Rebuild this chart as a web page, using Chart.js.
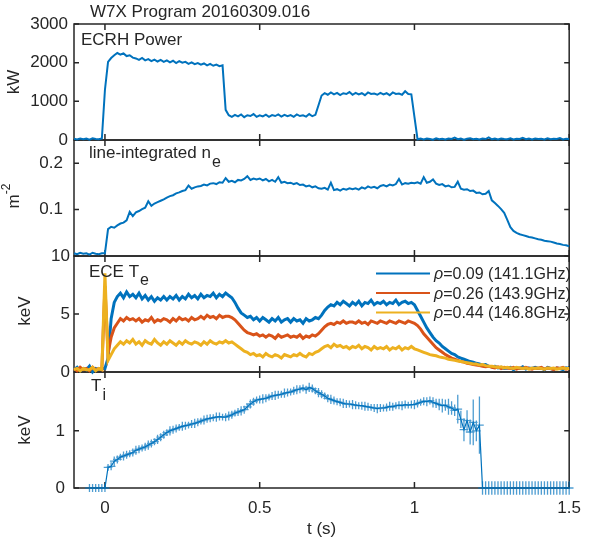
<!DOCTYPE html>
<html>
<head>
<meta charset="utf-8">
<script src="https://cdn.jsdelivr.net/npm/chart.js@4.4.1/dist/chart.umd.min.js"></script>
<style>
  body { margin: 0; background: #fff; }
  canvas { display: block; }
</style>
</head>
<body>
<canvas id="w7x" width="591" height="542"></canvas>
<script>
// sampling grid: t = -0.10 ... 1.50 s, 10 ms steps
const t0 = -0.1
const dt = 0.01

// ECRH power (kW)
const ecrhPower = [
  30, 15, 40, 20, 35, 10, 45, 25, 20, 40,
  1300, 2020, 2120, 2190, 2250, 2210, 2240, 2170, 2190, 2130,
  2110, 2070, 2120, 2060, 2090, 2040, 2080, 2030, 2070, 2020,
  2060, 2010, 2050, 1990, 2040, 2000, 2020, 1970, 2010, 1960,
  1990, 1950, 1980, 1930, 1970, 1920, 1950, 1910, 1930, 780,
  640, 600, 650, 610, 660, 590, 640, 620, 670, 600,
  640, 610, 655, 600, 645, 620, 660, 605, 650, 615,
  645, 600, 660, 620, 640, 605, 670, 615, 650, 900,
  1150, 1210, 1170, 1230, 1180, 1220, 1160, 1210, 1190, 1240,
  1170, 1220, 1180, 1210, 1160, 1230, 1190, 1200, 1170, 1220,
  1180, 1210, 1160, 1230, 1190, 1200, 1170, 1260, 1190, 1180,
  600, 20, 35, 15, 40, 25, 10, 45, 20, 30,
  15, 40, 25, 60, 20, 35, 10, 30, 45, 20,
  30, 15, 40, 25, 70, 20, 35, 15, 40, 25,
  20, 45, 15, 30, 25, 55, 20, 35, 15, 40,
  25, 30, 15, 45, 20, 35, 25, 50, 15, 30,
  25
]

// line-integrated density (axis units)
const density = [
  .006, .004, .007, .005, .006, .003, .007, .005, .004, .006,
  .006, .058, .063, .061, .066, .070, .072, .077, .095, .086,
  .094, .097, .101, .104, .118, .108, .113, .116, .119, .122,
  .126, .129, .131, .135, .137, .140, .142, .152, .145, .148,
  .150, .151, .154, .152, .156, .157, .155, .159, .158, .168,
  .160, .162, .159, .164, .163, .166, .172, .164, .167, .165,
  .167, .163, .166, .161, .164, .160, .170, .158, .160, .157,
  .158, .155, .157, .153, .154, .150, .152, .148, .150, .146,
  .145, .147, .143, .158, .142, .144, .141, .145, .143, .146,
  .144, .146, .143, .148, .145, .150, .147, .149, .146, .151,
  .153, .150, .154, .152, .155, .166, .154, .157, .156, .158,
  .157, .159, .156, .170, .158, .160, .165, .156, .153, .155,
  .150, .152, .148, .149, .160, .145, .143, .144, .140, .141,
  .136, .137, .133, .134, .140, .120, .114, .108, .101, .093,
  .078, .062, .054, .050, .047, .045, .043, .041, .040, .038,
  .036, .035, .033, .032, .031, .029, .027, .026, .024, .023,
  .021
]

// ECE electron temperature (keV)
const teCore = [
  .2, .4, .1, .3, .2, .5, .0, .3, .2, .3,
  .3, 1.2, 4.6, 6.0, 6.5, 6.8, 6.4, 6.9, 6.5, 6.7,
  6.4, 6.8, 6.3, 6.6, 6.2, 6.5, 6.1, 6.4, 6.2, 6.5,
  6.2, 6.5, 6.3, 6.6, 6.2, 6.5, 6.3, 6.7, 6.4, 6.6,
  6.3, 6.7, 6.4, 6.6, 6.5, 6.8, 6.4, 6.7, 6.5, 6.8,
  6.6, 6.4, 6.0, 5.5, 5.1, 4.9, 4.7, 4.8, 4.5, 4.7,
  4.4, 4.7, 4.5, 4.3, 4.6, 4.4, 4.7, 4.3, 4.5, 4.6,
  4.3, 4.6, 4.4, 4.5, 4.2, 4.6, 4.4, 4.5, 4.7, 4.6,
  4.9, 5.3, 5.6, 5.8, 5.7, 6.0, 5.8, 6.1, 5.9, 5.7,
  6.0, 5.8, 6.1, 5.7, 6.0, 5.9, 6.2, 5.8, 6.0, 5.9,
  6.1, 5.8, 6.0, 5.9, 6.2, 5.8, 6.0, 6.1, 5.9, 6.0,
  5.8, 5.3, 4.8, 4.3, 3.8, 3.4, 3.0, 2.7, 2.5, 2.2,
  2.0, 1.8, 1.6, 1.5, 1.3, 1.2, 1.1, 1.0, .9, .85,
  .75, .7, .6, .65, .5, .45, .5, .35, .4, .3,
  .35, .4, .2, .35, .3, .45, .25, .35, .3, .4,
  .3, .35, .2, .4, .3, .25, .35, .3, .2, .35,
  .3
]
const teMid = [
  .3, .1, .4, .2, .3, .1, .4, .2, .3, .2,
  7.4, 1.6, 3.0, 3.8, 4.2, 4.6, 4.4, 4.7, 4.5, 4.6,
  4.4, 4.6, 4.3, 4.5, 4.4, 4.7, 4.3, 4.5, 4.4, 4.6,
  4.5, 4.3, 4.6, 4.4, 4.7, 4.5, 4.6, 4.4, 4.7, 4.5,
  4.6, 4.8, 4.6, 4.9, 4.7, 4.8, 4.6, 4.9, 4.7, 4.8,
  4.8, 4.7, 4.5, 4.2, 3.9, 3.6, 3.4, 3.3, 3.2, 3.3,
  3.1, 3.2, 3.0, 3.2, 3.1, 2.9, 3.2, 3.0, 3.1, 3.2,
  3.0, 3.1, 3.0, 3.2, 2.9, 3.1, 3.0, 3.2, 3.1, 3.3,
  3.6, 3.9, 4.1, 4.2, 4.1, 4.3, 4.2, 4.4, 4.2, 4.3,
  4.3, 4.2, 4.4, 4.2, 4.3, 4.1, 4.4, 4.3, 4.2, 4.4,
  4.3, 4.2, 4.4, 4.3, 4.2, 4.4, 4.3, 4.2, 4.4, 4.3,
  4.2, 4.0, 3.7, 3.3, 3.0, 2.7, 2.4, 2.1, 1.9, 1.7,
  1.5, 1.35, 1.2, 1.1, 1.0, .9, .85, .75, .7, .65,
  .6, .55, .5, .45, .5, .4, .35, .45, .3, .4,
  .35, .3, .4, .25, .35, .3, .4, .3, .25, .35,
  .3, .4, .25, .35, .3, .2, .35, .3, .4, .25,
  .3
]
const teEdge = [
  .2, .3, .1, .3, .2, .2, .4, .1, .3, .2,
  8.5, 1.0, 1.5, 2.0, 2.3, 2.6, 2.4, 2.7, 2.5, 2.8,
  2.4, 2.6, 2.3, 2.7, 2.5, 2.4, 2.8, 2.5, 2.3, 2.6,
  2.4, 2.7, 2.5, 2.3, 2.6, 2.4, 2.7, 2.5, 2.4, 2.6,
  2.5, 2.3, 2.6, 2.4, 2.7, 2.5, 2.4, 2.6, 2.5, 2.7,
  2.5, 2.6, 2.4, 2.2, 2.0, 1.8, 1.7, 1.5, 1.6, 1.4,
  1.5, 1.3, 1.6, 1.4, 1.3, 1.5, 1.4, 1.2, 1.5, 1.4,
  1.3, 1.5, 1.4, 1.6, 1.4, 1.3, 1.6, 1.5, 1.7, 1.8,
  2.0, 2.2, 2.3, 2.1, 2.4, 2.2, 2.3, 2.1, 2.2, 2.0,
  2.2, 2.1, 2.3, 2.0, 2.2, 2.1, 1.9, 2.2, 2.0, 2.1,
  2.0, 2.2, 1.9, 2.1, 2.0, 2.2, 1.9, 2.1, 2.0, 2.2,
  2.0, 1.9, 1.8, 1.7, 1.6, 1.5, 1.45, 1.4, 1.3, 1.25,
  1.2, 1.1, 1.05, 1.0, .95, .9, .85, .8, .75, .7,
  .7, .6, .65, .55, .5, .5, .45, .4, .45, .35,
  .4, .35, .3, .4, .35, .3, .35, .25, .35, .3,
  .35, .3, .25, .35, .3, .35, .25, .3, .35, .3,
  .3
]

// ion temperature (keV) and its error
const ionTemp = [
  null, null, null, null, null, 0, 0, 0, 0, 0,
  0, .36, .38, .47, .50, .54, .56, .58, .60, .62,
  .66, .68, .70, .72, .75, .78, .81, .85, .89, .93,
  .97, 1.00, 1.02, 1.04, 1.06, 1.08, 1.09, 1.10, 1.12, 1.13,
  1.15, 1.17, 1.19, 1.21, 1.22, 1.23, 1.24, 1.25, 1.24, 1.24,
  1.26, 1.28, 1.31, 1.33, 1.35, 1.37, 1.42, 1.47, 1.51, 1.54,
  1.55, 1.56, 1.57, 1.59, 1.61, 1.62, 1.63, 1.64, 1.66, 1.67,
  1.68, 1.70, 1.72, 1.73, 1.75, 1.72, 1.76, 1.74, 1.70, 1.67,
  1.64, 1.61, 1.57, 1.55, 1.53, 1.51, 1.50, 1.48, 1.47, 1.47,
  1.46, 1.45, 1.44, 1.44, 1.43, 1.42, 1.41, 1.40, 1.39, 1.40,
  1.40, 1.41, 1.43, 1.42, 1.44, 1.45, 1.44, 1.46, 1.45, 1.46,
  1.46, 1.48, 1.50, 1.52, 1.51, 1.53, 1.50, 1.48, 1.46, 1.44,
  1.45, 1.42, 1.40, 1.36, 1.38, 1.20, 1.02, 1.18, .98, 1.15,
  1.00, 1.10, 0, 0, 0, 0, 0, 0, 0, 0,
  0, 0, 0, 0, 0, 0, 0, 0, 0, 0,
  0, 0, 0, 0, 0, 0, 0, 0, 0, 0,
  0
]
const ionTempErr = [
  null, null, null, null, null, .07, .07, .07, .07, .07,
  .07, .06, .07, .08, .07, .06, .08, .07, .06, .07,
  .08, .07, .06, .07, .08, .07, .06, .08, .07, .07,
  .06, .08, .07, .07, .06, .08, .07, .06, .07, .08,
  .07, .06, .08, .07, .07, .06, .08, .07, .06, .07,
  .08, .07, .06, .07, .08, .07, .06, .08, .07, .06,
  .07, .08, .07, .06, .07, .08, .07, .06, .08, .07,
  .06, .07, .08, .07, .06, .07, .08, .07, .06, .08,
  .07, .06, .07, .08, .07, .06, .07, .08, .07, .06,
  .08, .07, .06, .07, .08, .07, .06, .07, .08, .07,
  .06, .07, .08, .07, .06, .07, .08, .07, .06, .07,
  .08, .07, .06, .07, .08, .07, .09, .08, .10, .12,
  .10, .14, .12, .10, .25, .15, .20, .18, .22, .40,
  .18, .50, .12, .12, .12, .12, .12, .12, .12, .12,
  .12, .12, .12, .12, .12, .12, .12, .12, .12, .12,
  .12, .12, .12, .12, .12, .12, .12, .12, .12, .12,
  .12
]
const ionTimeErr = 0.014

const xTicks = [0, 0.5, 1, 1.5]
const powerTicks = [0, 1000, 2000, 3000]
const densityTicks = [0.1, 0.2]
const teTicks = [0, 5, 10]
const tiTicks = [0, 1]

const eceRho = ['0.09', '0.26', '0.44']
const eceFreq = ['141.1GHz', '143.9GHz', '146.8GHz']

const BLUE = '#0072BD'
const RED = '#D95319'
const YELLOW = '#EDB120'
const INK = '#262626'
const FONT = '"Liberation Sans", Arial, sans-serif'

const toPoints = (vals) => vals.map((v, i) => ({ x: +(t0 + dt * i).toFixed(2), y: v }))

const yScale = (min, max, ticks, pad) => ({
  type: 'linear',
  position: 'left',
  stack: 'panels',
  stackWeight: 1,
  min: min,
  max: max,
  afterBuildTicks: (s) => { s.ticks = ticks.map((v) => ({ value: v })) },
  afterFit: (s) => { s.width = 74 },
  grid: { display: false, drawTicks: false },
  border: { display: false },
  ticks: { autoSkip: false, color: INK, font: { family: FONT, size: 17 }, padding: pad, callback: (v) => String(v) }
})

// panel frames and inward tick marks, drawn under the data
const frames = {
  id: 'frames',
  beforeDatasetsDraw(chart) {
    const { ctx, chartArea: a, scales } = chart
    ctx.save()
    ctx.strokeStyle = INK
    ctx.lineWidth = 1.5
    for (const id of ['yP', 'yN', 'yT', 'yI']) {
      const s = scales[id]
      ctx.strokeRect(a.left, s.top, a.right - a.left, s.bottom - s.top)
      ctx.beginPath()
      for (const tk of s.ticks) {
        const py = s.getPixelForValue(tk.value)
        ctx.moveTo(a.left, py); ctx.lineTo(a.left + 5, py)
        ctx.moveTo(a.right, py); ctx.lineTo(a.right - 5, py)
      }
      for (const v of xTicks) {
        const px = scales.x.getPixelForValue(v)
        ctx.moveTo(px, s.top); ctx.lineTo(px, s.top + 6)
        ctx.moveTo(px, s.bottom); ctx.lineTo(px, s.bottom - 6)
      }
      ctx.stroke()
    }
    ctx.restore()
  }
}

// Ti error bars (crosses)
const errorBars = {
  id: 'errorBars',
  afterDatasetsDraw(chart) {
    const { ctx, scales } = chart
    const x = scales.x, y = scales.yI
    ctx.save()
    ctx.strokeStyle = 'rgba(0,114,189,0.7)'
    ctx.lineWidth = 1.3
    ctx.beginPath()
    ionTemp.forEach((v, i) => {
      if (v === null) return
      const t = t0 + dt * i
      const px = x.getPixelForValue(t), py = y.getPixelForValue(v)
      ctx.moveTo(x.getPixelForValue(t - ionTimeErr), py)
      ctx.lineTo(x.getPixelForValue(t + ionTimeErr), py)
      ctx.moveTo(px, y.getPixelForValue(v - ionTempErr[i]))
      ctx.lineTo(px, y.getPixelForValue(v + ionTempErr[i]))
    })
    ctx.stroke()
    ctx.restore()
  }
}

const labelWithSub = (ctx, x, y, main, sub, drop) => {
  ctx.font = '17px ' + FONT
  ctx.fillText(main, x, y)
  const w = ctx.measureText(main).width
  ctx.font = '16px ' + FONT
  ctx.fillText(sub, x + w + 1, y + drop)
}

const rotated = (ctx, cx, cy, draw) => {
  ctx.save()
  ctx.translate(cx, cy)
  ctx.rotate(-Math.PI / 2)
  draw()
  ctx.restore()
}

// title, panel labels, y titles and the ECE legend
const annotations = {
  id: 'annotations',
  afterDraw(chart) {
    const { ctx } = chart
    ctx.save()
    ctx.fillStyle = INK
    ctx.textBaseline = 'alphabetic'
    ctx.textAlign = 'left'
    ctx.font = '17px ' + FONT
    ctx.fillText('W7X Program 20160309.016', 90, 17)
    ctx.fillText('ECRH Power', 81, 45)
    labelWithSub(ctx, 89, 158, 'line-integrated n', 'e', 9)
    labelWithSub(ctx, 89, 277, 'ECE T', 'e', 8)
    labelWithSub(ctx, 91, 391, 'T', 'i', 9)

    ctx.textBaseline = 'middle'
    ctx.textAlign = 'center'
    rotated(ctx, 14, 82, () => { ctx.font = '17px ' + FONT; ctx.fillText('kW', 0, 0) })
    rotated(ctx, 14, 196, () => {
      ctx.font = '17px ' + FONT
      const wm = ctx.measureText('m').width
      ctx.font = '12px ' + FONT
      const ws = ctx.measureText('-2').width
      const start = -(wm + ws) / 2
      ctx.textAlign = 'left'
      ctx.font = '17px ' + FONT
      ctx.fillText('m', start, 0)
      ctx.font = '12px ' + FONT
      ctx.fillText('-2', start + wm, -7)
    })
    rotated(ctx, 25, 311, () => { ctx.font = '17px ' + FONT; ctx.fillText('keV', 0, 0) })
    rotated(ctx, 25, 430, () => { ctx.font = '17px ' + FONT; ctx.fillText('keV', 0, 0) })

    // legend
    const colors = [BLUE, RED, YELLOW]
    ctx.textAlign = 'left'
    ctx.textBaseline = 'alphabetic'
    eceRho.forEach((rho, k) => {
      const ly = 273.5 + k * 19.5
      ctx.strokeStyle = colors[k]
      ctx.lineWidth = 2
      ctx.beginPath()
      ctx.moveTo(376, ly); ctx.lineTo(430, ly)
      ctx.stroke()
      ctx.font = 'italic 16px ' + FONT
      ctx.fillText('ρ', 434, ly + 5.5)
      const w = ctx.measureText('ρ').width
      ctx.font = '16px ' + FONT
      ctx.fillText('=' + rho + ' (' + eceFreq[k] + ')', 434 + w, ly + 5.5)
    })
    ctx.restore()
  }
}

const line = (label, vals, color, yId, width, order) => ({
  label: label,
  data: toPoints(vals),
  yAxisID: yId,
  borderColor: color,
  borderWidth: width,
  pointRadius: 0,
  tension: 0,
  clip: 3,
  order: order
})

new Chart(document.getElementById('w7x'), {
  type: 'line',
  data: {
    datasets: [
      line('ECRH Power', ecrhPower, BLUE, 'yP', 2, 5),
      line('line-integrated ne', density, BLUE, 'yN', 2, 5),
      line('rho=0.09', teCore, BLUE, 'yT', 3, 3),
      line('rho=0.26', teMid, RED, 'yT', 3, 2),
      line('rho=0.44', teEdge, YELLOW, 'yT', 3, 1),
      line('Ti', ionTemp, BLUE, 'yI', 1.2, 5)
    ]
  },
  options: {
    responsive: false,
    animation: false,
    devicePixelRatio: 1,
    layout: { padding: { top: 24, right: 13, left: 0, bottom: 0 } },
    plugins: { legend: { display: false }, tooltip: { enabled: false } },
    scales: {
      x: {
        type: 'linear',
        min: -0.1,
        max: 1.5,
        afterBuildTicks: (s) => { s.ticks = xTicks.map((v) => ({ value: v })) },
        afterFit: (s) => { s.height = 54 },
        grid: { display: false, drawTicks: false },
        border: { display: false },
        ticks: { color: INK, font: { family: FONT, size: 17 }, padding: 10, maxRotation: 0, callback: (v) => String(v) },
        title: { display: true, text: 't (s)', color: INK, font: { family: FONT, size: 17 }, padding: { top: 0, bottom: 2 } }
      },
      // stacked panels are placed bottom-up in definition order
      yI: yScale(0, 2.03, tiTicks, 9),
      yT: yScale(0, 10, teTicks, 4),
      yN: yScale(0, 0.25, densityTicks, 11),
      yP: yScale(0, 3000, powerTicks, 6)
    }
  },
  plugins: [frames, errorBars, annotations]
})
</script>
</body>
</html>
